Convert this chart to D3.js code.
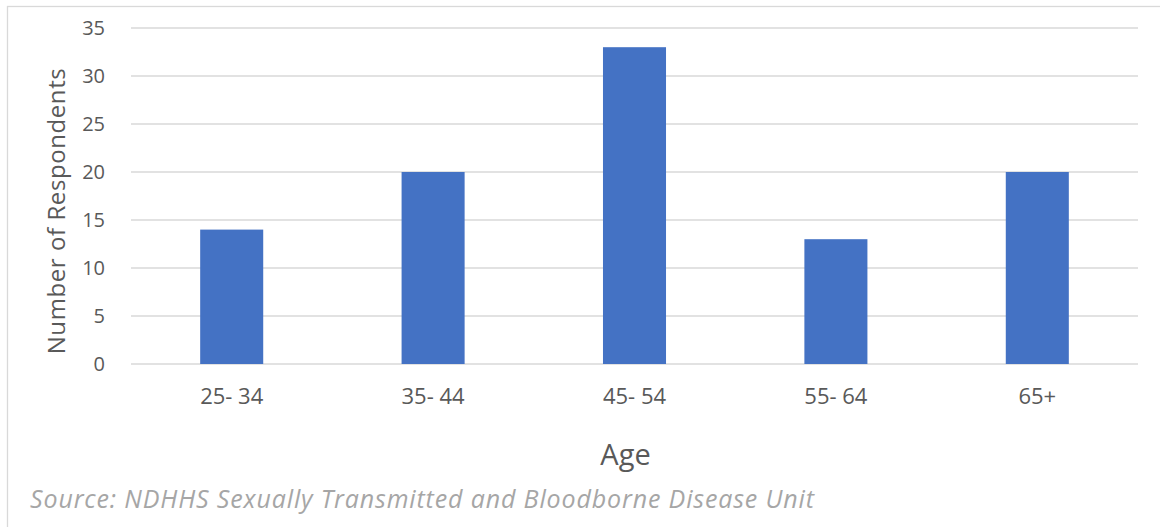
<!DOCTYPE html>
<html>
<head>
<meta charset="utf-8">
<script src="https://cdn.jsdelivr.net/npm/d3@7"></script>
<style>
  html, body { margin: 0; padding: 0; background: #ffffff; }
  svg { display: block; }
  text { font-family: "Open Sans", "Noto Sans", sans-serif; }
</style>
</head>
<body>
<svg id="chart" width="1160" height="527"></svg>
<script>
// Respondents by age group
const ageGroups = ["25- 34", "35- 44", "45- 54", "55- 64", "65+"];
const respondents = [14, 20, 33, 13, 20];
const yTicks = [0, 5, 10, 15, 20, 25, 30, 35];

const width = 1160, height = 527;
const margin = { left: 131, right: 22, top: 28, bottom: 163 };
const plotW = width - margin.left - margin.right;
const plotH = height - margin.top - margin.bottom;

const svg = d3.select("#chart");

// spread a label's letters so it spans the given width
function spreadTo(sel, target) {
  sel.each(function () {
    const n = this.textContent.length;
    const w = this.getComputedTextLength();
    if (n > 1) d3.select(this).style("letter-spacing", ((target - w) / (n - 1)) + "px");
  });
}

// outer frame
svg.append("rect")
  .attr("x", 7.5).attr("y", 6.5)
  .attr("width", 1170).attr("height", 540)
  .attr("fill", "none")
  .attr("stroke", "#d9d9d9")
  .attr("stroke-width", 1.3);

const g = svg.append("g").attr("transform", `translate(${margin.left},${margin.top})`);

const x = d3.scaleBand().domain(ageGroups).range([0, plotW]).paddingInner(0.687).paddingOuter(0.3435);
const y = d3.scaleLinear().domain([0, 35]).range([plotH, 0]);

// horizontal gridlines
g.append("g")
  .selectAll("line")
  .data(yTicks)
  .join("line")
  .attr("x1", 0).attr("x2", plotW)
  .attr("y1", d => y(d)).attr("y2", d => y(d))
  .attr("stroke", "#d9d9d9")
  .attr("stroke-width", 1.3);

// y axis labels
const yAxis = g.append("g")
  .call(d3.axisLeft(y).tickValues(yTicks).tickSize(0).tickPadding(26))
  .call(a => a.select(".domain").remove());
yAxis.selectAll("text")
  .attr("fill", "#595959")
  .style("font-size", "20px")
  .style("font-family", "'Open Sans', 'Noto Sans', sans-serif");

// bars
g.append("g")
  .selectAll("rect")
  .data(respondents)
  .join("rect")
  .attr("x", (d, i) => x(ageGroups[i]))
  .attr("y", d => y(d))
  .attr("width", x.bandwidth())
  .attr("height", d => y(0) - y(d))
  .attr("fill", "#4472c4");

// x axis labels
const xAxis = g.append("g")
  .attr("transform", `translate(0,${plotH})`)
  .call(d3.axisBottom(x).tickSize(0).tickPadding(24))
  .call(a => a.select(".domain").remove());
xAxis.selectAll("text")
  .attr("fill", "#595959")
  .style("font-size", "22px")
  .style("font-family", "'Open Sans', 'Noto Sans', sans-serif")
  .style("white-space", "pre");

// axis titles
svg.append("text")
  .attr("x", margin.left + plotW / 2 - 9)
  .attr("y", 465)
  .attr("text-anchor", "middle")
  .attr("fill", "#595959")
  .style("font-size", "29px")
  .text("Age");

svg.append("text")
  .attr("transform", "translate(65,211) rotate(-90)")
  .attr("text-anchor", "middle")
  .attr("fill", "#595959")
  .style("font-size", "24px")
  .text("Number of Respondents")
  .call(spreadTo, 286);

// source note
svg.append("text")
  .attr("x", 30)
  .attr("y", 508)
  .attr("fill", "#a6a6a6")
  .style("font-size", "25px")
  .style("font-style", "italic")
  .text("Source: NDHHS Sexually Transmitted and Bloodborne Disease Unit")
  .call(spreadTo, 784);
</script>
</body>
</html>
